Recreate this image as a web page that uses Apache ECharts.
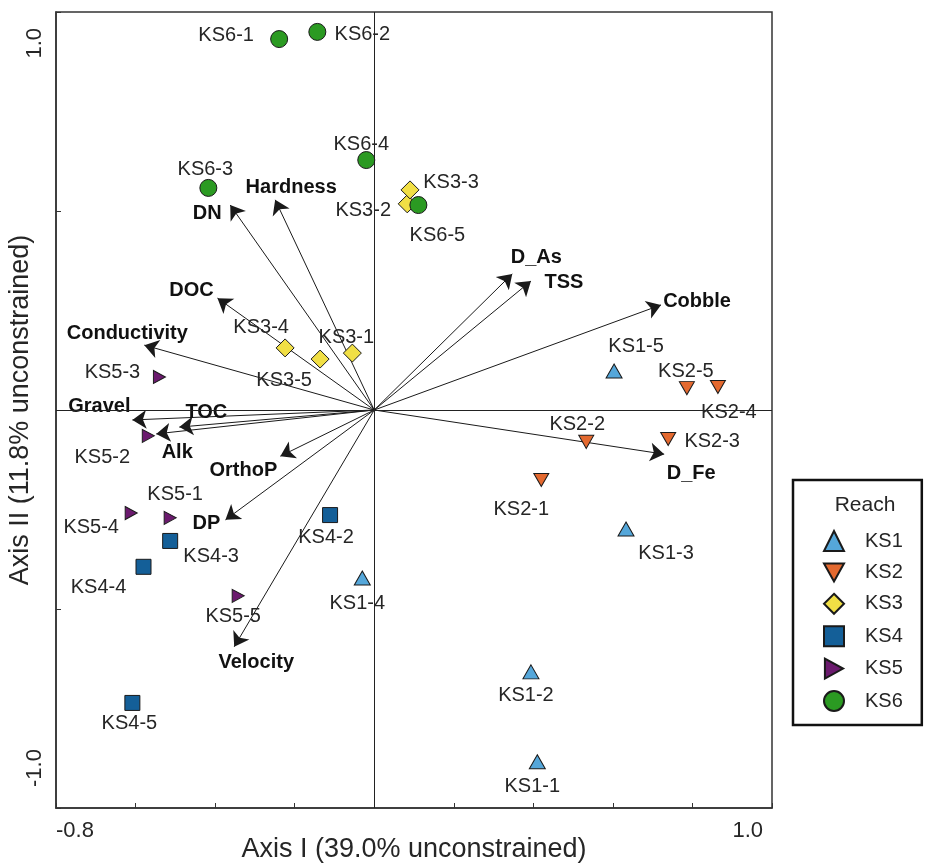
<!DOCTYPE html>
<html><head><meta charset="utf-8">
<script src="https://cdn.jsdelivr.net/npm/echarts@6/dist/echarts.min.js"></script>
<style>html,body{margin:0;padding:0;background:#fff}#c{width:925px;height:864px}</style>
</head><body><div id="c"></div>
<script>
// ---- data ----
const reaches = ['KS1', 'KS2', 'KS3', 'KS4', 'KS5', 'KS6'];

const ks1Names = ['KS1-1', 'KS1-2', 'KS1-3', 'KS1-4', 'KS1-5'];
const ks1X = [0.410, 0.394, 0.633, -0.030, 0.603];
const ks1Y = [-0.884, -0.658, -0.299, -0.422, 0.098];

const ks2Names = ['KS2-1', 'KS2-2', 'KS2-3', 'KS2-4', 'KS2-5'];
const ks2X = [0.420, 0.533, 0.739, 0.864, 0.786];
const ks2Y = [-0.176, -0.080, -0.073, 0.058, 0.055];

const ks3Names = ['KS3-1', 'KS3-2', 'KS3-3', 'KS3-4', 'KS3-5'];
const ks3X = [-0.055, 0.083, 0.090, -0.224, -0.136];
const ks3Y = [0.143, 0.518, 0.553, 0.156, 0.128];

const ks4Names = ['KS4-2', 'KS4-3', 'KS4-4', 'KS4-5'];
const ks4X = [-0.111, -0.513, -0.580, -0.608];
const ks4Y = [-0.264, -0.329, -0.394, -0.736];

const ks5Names = ['KS5-1', 'KS5-2', 'KS5-3', 'KS5-4', 'KS5-5'];
const ks5X = [-0.513, -0.568, -0.540, -0.611, -0.342];
const ks5Y = [-0.271, -0.065, 0.083, -0.259, -0.467];

const ks6Names = ['KS6-1', 'KS6-2', 'KS6-3', 'KS6-4', 'KS6-5'];
const ks6X = [-0.239, -0.143, -0.417, -0.020, 0.111];
const ks6Y = [0.932, 0.950, 0.558, 0.628, 0.515];

const envNames = ['DN', 'Hardness', 'DOC', 'Conductivity', 'Gravel', 'TOC', 'Alk', 'OrthoP', 'DP', 'Velocity', 'D_As', 'TSS', 'Cobble', 'D_Fe'];
const envX = [-0.362, -0.249, -0.394, -0.578, -0.608, -0.490, -0.548, -0.236, -0.374, -0.352, 0.347, 0.394, 0.721, 0.729];
const envY = [0.515, 0.528, 0.281, 0.163, -0.025, -0.043, -0.060, -0.116, -0.276, -0.595, 0.342, 0.324, 0.264, -0.111];

const xTickLabels = ['-0.8', '1.0'];
const yTickLabels = ['-1.0', '1.0'];
const xTitle = 'Axis I (39.0% unconstrained)';
const yTitle = 'Axis II (11.8% unconstrained)';
const legendTitle = 'Reach';

// ---- style / layout (not data) ----
const reachStyle = {
  KS1: {color: '#55a7da', symbol: 'triangle', size: [16, 14]},
  KS2: {color: '#e4692f', symbol: 'path://M0,0 L10,0 L5,9 Z', size: [15, 13]},
  KS3: {color: '#f1df45', symbol: 'diamond', size: [18, 18]},
  KS4: {color: '#145f98', symbol: 'rect', size: [15, 15]},
  KS5: {color: '#6b1a6e', symbol: 'path://M0,0 L10,5.5 L0,11 Z', size: [12, 13]},
  KS6: {color: '#2b9a22', symbol: 'circle', size: [17, 17]}
};
const sampleLabelOffset = {
  'KS6-1': [-53, -4], 'KS6-2': [45, 3], 'KS6-4': [-5, -16], 'KS6-3': [-3, -18], 'KS3-3': [41, -7],
  'KS3-2': [-44, 7], 'KS6-5': [19, 30], 'KS3-4': [-24, -20], 'KS3-1': [-6, -16], 'KS3-5': [-36, 21],
  'KS5-3': [-47, -4], 'KS5-2': [-46, 22], 'KS5-1': [5, -23], 'KS5-4': [-40, 14], 'KS4-3': [41, 16],
  'KS4-2': [-4, 22], 'KS4-4': [-45, 21], 'KS5-5': [-5, 21], 'KS1-4': [-5, 26], 'KS4-5': [-3, 21],
  'KS1-2': [-5, 24], 'KS1-1': [-5, 25], 'KS1-5': [22, -25], 'KS2-5': [-1, -17], 'KS2-4': [11, 26],
  'KS2-2': [-9, -17], 'KS2-3': [44, 2], 'KS2-1': [-20, 29], 'KS1-3': [40, 24]
};
const envLabelOffset = {
  'DN': [-23, 8], 'Hardness': [16, -12], 'DOC': [-26, -8], 'Conductivity': [-17, -12],
  'Gravel': [-33, -13], 'TOC': [27, -15], 'Alk': [21, 19], 'OrthoP': [-37, 14], 'DP': [-19, 4],
  'Velocity': [22, 16], 'D_As': [24, -16], 'TSS': [33, 1], 'Cobble': [36, -3], 'D_Fe': [27, 19]
};

const FONT = 'Liberation Sans, Arial, sans-serif';
const TXT = '#262626';

const groups = {
  KS1: [ks1Names, ks1X, ks1Y], KS2: [ks2Names, ks2X, ks2Y], KS3: [ks3Names, ks3X, ks3Y],
  KS4: [ks4Names, ks4X, ks4Y], KS5: [ks5Names, ks5X, ks5Y], KS6: [ks6Names, ks6X, ks6Y]
};

function offsetLayout(names, table) {
  return function (p) {
    const o = table[names[p.dataIndex]] || [0, 0];
    return {dx: o[0], dy: o[1], hideOverlap: false, moveOverlap: null};
  };
}

const sampleSeries = reaches.map(r => {
  const [names, xs, ys] = groups[r];
  const st = reachStyle[r];
  return {
    name: r, type: 'scatter', z: 5,
    symbol: st.symbol, symbolSize: st.size,
    itemStyle: {color: st.color, borderColor: '#1a1a1a', borderWidth: 1, opacity: 1},
    label: {show: true, position: 'inside', formatter: '{b}', fontFamily: FONT, fontSize: 20, color: TXT,
            textBorderWidth: 0, textBorderColor: 'transparent'},
    labelLayout: offsetLayout(names, sampleLabelOffset),
    emphasis: {disabled: true},
    data: names.map((n, i) => ({name: n, value: [xs[i], ys[i]]}))
  };
});

const arrowSeries = {
  type: 'lines', coordinateSystem: 'cartesian2d', z: 3, silent: true,
  symbol: ['none', 'arrow'], symbolSize: [0, 14],
  lineStyle: {color: '#1a1a1a', width: 1, opacity: 1, curveness: 0},
  data: envNames.map((n, i) => ({coords: [[0, 0], [envX[i], envY[i]]]}))
};

const envLabelSeries = {
  type: 'scatter', z: 4, silent: true, symbolSize: 0,
  itemStyle: {opacity: 1, color: '#000'},
  label: {show: true, position: 'inside', formatter: '{b}', fontFamily: FONT, fontSize: 20, fontWeight: 'bold', color: '#111',
          textBorderWidth: 0, textBorderColor: 'transparent', opacity: 1},
  labelLayout: offsetLayout(envNames, envLabelOffset),
  emphasis: {disabled: true},
  data: envNames.map((n, i) => ({name: n, value: [envX[i], envY[i]]})),
  markLine: {
    silent: true, symbol: 'none', label: {show: false}, animation: false,
    lineStyle: {color: '#222', width: 1, type: 'solid', opacity: 1},
    emphasis: {disabled: true},
    data: [{xAxis: 0}, {yAxis: 0}]
  }
};

const chart = echarts.init(document.getElementById('c'), null, {renderer: 'canvas'});
chart.setOption({
  animation: false,
  backgroundColor: '#fff',
  textStyle: {fontFamily: FONT},
  grid: {left: 56, right: 153, top: 12, bottom: 56, show: true, borderColor: '#333', borderWidth: 1.5,
         backgroundColor: 'transparent', containLabel: false, outerBoundsMode: 'none'},
  title: {
    text: legendTitle, left: 860, top: 490, textAlign: 'center',
    textStyle: {fontFamily: FONT, fontSize: 21, fontWeight: 'normal', color: TXT}
  },
  legend: {
    orient: 'vertical', left: 793, top: 480,
    padding: [50, 19, 13, 30],
    borderColor: '#111', borderWidth: 2.5,
    itemWidth: 20, itemHeight: 20, itemGap: 10.4,
    textStyle: {fontFamily: FONT, fontSize: 20, color: TXT, padding: [0, 0, 0, 16]},
    data: reaches,
    selectedMode: false
  },
  xAxis: {
    type: 'value', min: -0.8, max: 1.0, interval: 0.2,
    splitLine: {show: false},
    axisLine: {onZero: false, lineStyle: {color: '#333', width: 1.5}},
    axisTick: {inside: true, length: 5, lineStyle: {color: '#333', width: 1}},
    axisLabel: {
      fontFamily: FONT, fontSize: 22, color: TXT, margin: 12,
      showMinLabel: true, showMaxLabel: true,
      alignMinLabel: 'left', alignMaxLabel: 'right', padding: [0, 9, 0, 0],
      formatter: v => { const s = v.toFixed(1); return xTickLabels.includes(s) ? s : ''; }
    },
    name: xTitle, nameLocation: 'middle', nameGap: 28, nameMoveOverlap: false,
    nameTextStyle: {fontFamily: FONT, fontSize: 27, color: TXT}
  },
  yAxis: {
    type: 'value', min: -1.0, max: 1.0, interval: 0.5,
    splitLine: {show: false},
    axisLine: {onZero: false, lineStyle: {color: '#333', width: 1.5}},
    axisTick: {inside: true, length: 5, lineStyle: {color: '#333', width: 1}},
    axisLabel: {
      fontFamily: FONT, fontSize: 22, color: TXT, margin: 10, rotate: 90,
      showMinLabel: true, showMaxLabel: true,
      alignMinLabel: 'left', alignMaxLabel: 'right', padding: [0, 16, 0, 21],
      formatter: v => { const s = v.toFixed(1); return yTickLabels.includes(s) ? s : ''; }
    },
    name: yTitle, nameLocation: 'middle', nameGap: 22, nameMoveOverlap: false,
    nameTextStyle: {fontFamily: FONT, fontSize: 27, color: TXT}
  },
  series: [arrowSeries, envLabelSeries, ...sampleSeries]
});
</script>
</body></html>
